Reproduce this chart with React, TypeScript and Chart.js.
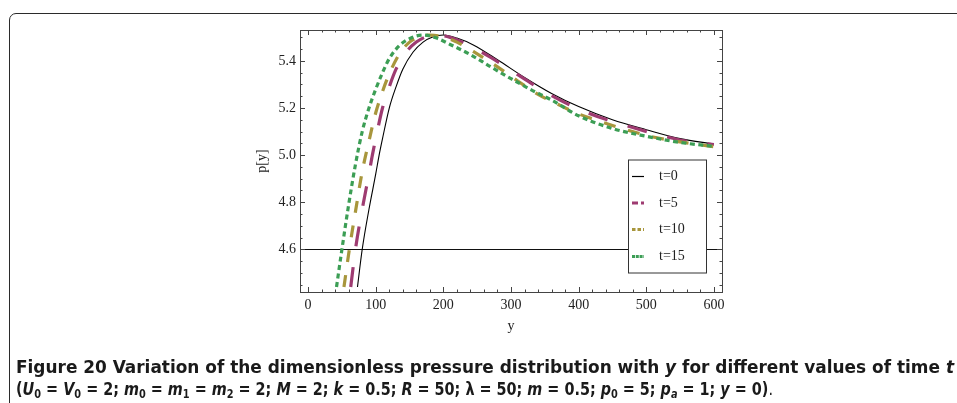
import React, { useEffect, useRef } from 'react';
import { Chart, registerables } from 'chart.js';

Chart.register(...registerables);

// ---- data ----
const seriesLabels = ['t=0', 't=5', 't=10', 't=15'];

const t0X = [73, 80, 90, 100, 105, 110, 120, 130, 140, 155, 170, 185, 200, 220, 245, 280, 320, 360, 400, 450, 500, 550, 600];
const t0Y = [4.44, 4.6, 4.77, 4.92, 5.0, 5.07, 5.2, 5.29, 5.365, 5.437, 5.48, 5.503, 5.51, 5.497, 5.467, 5.405, 5.33, 5.262, 5.206, 5.15, 5.108, 5.07, 5.047];

const t5X = [63, 70, 80, 90, 95, 100, 110, 120, 130, 145, 160, 175, 190, 210, 240, 270, 300, 330, 360, 400, 440, 480, 520, 560, 600];
const t5Y = [4.44, 4.6, 4.77, 4.92, 5.0, 5.07, 5.2, 5.29, 5.365, 5.437, 5.48, 5.503, 5.51, 5.5, 5.463, 5.415, 5.36, 5.305, 5.253, 5.196, 5.152, 5.117, 5.085, 5.059, 5.045];

const t10X = [53, 61, 70, 80, 90, 100, 110, 120, 135, 150, 165, 180, 200, 220, 250, 280, 310, 340, 370, 400, 430, 470, 510, 550, 600];
const t10Y = [4.44, 4.6, 4.76, 4.93, 5.06, 5.18, 5.27, 5.345, 5.43, 5.48, 5.503, 5.51, 5.502, 5.48, 5.43, 5.375, 5.315, 5.258, 5.215, 5.175, 5.145, 5.108, 5.077, 5.056, 5.036];

const t15X = [42, 50, 60, 70, 80, 90, 100, 110, 120, 135, 150, 170, 190, 210, 240, 270, 300, 330, 360, 400, 450, 500, 550, 600];
const t15Y = [4.44, 4.6, 4.79, 4.96, 5.1, 5.2, 5.28, 5.35, 5.41, 5.465, 5.495, 5.51, 5.497, 5.47, 5.427, 5.375, 5.325, 5.277, 5.234, 5.167, 5.113, 5.08, 5.054, 5.037];

const xTicks = [0, 100, 200, 300, 400, 500, 600];
const yTicks = [4.6, 4.8, 5.0, 5.2, 5.4];
const xMinorStep = 20;
const yMinorStep = 0.05;
const xMin = -12;
const xMax = 612;
const yMin = 4.4186;
const yMax = 5.5314;
const axisLevel = 4.6;

// ---- styles ----
const colors = ['#000000', '#9e3b71', '#a8963c', '#3c9e55'];
const widths = [1.1, 3.2, 3.2, 3.2];
const dashes: number[][] = [[], [20, 21], [12, 13], [5, 3.5]];
const legendDashes: number[][] = [[], [6, 3], [3.5, 2], [3, 0.8]];
const serif = "'Liberation Serif', 'Times New Roman', serif";

const pts = (xs: number[], ys: number[]) => xs.map((x, i) => ({ x, y: ys[i] }));

const framePlugin = {
  id: 'mmaFrame',
  beforeDatasetsDraw(chart: any) {
    const { ctx, chartArea: a, scales } = chart;
    const yp = scales.y.getPixelForValue(axisLevel);
    ctx.save();
    ctx.strokeStyle = '#111';
    ctx.lineWidth = 1;
    ctx.beginPath();
    ctx.moveTo(a.left, Math.round(yp) + 0.5);
    ctx.lineTo(a.right, Math.round(yp) + 0.5);
    ctx.stroke();
    ctx.restore();
  },
  afterDraw(chart: any) {
    const { ctx, chartArea: a, scales } = chart;
    const xs = scales.x;
    const ys = scales.y;
    ctx.save();
    // frame
    ctx.strokeStyle = '#444';
    ctx.lineWidth = 1;
    ctx.strokeRect(Math.round(a.left) + 0.5, Math.round(a.top) + 0.5, Math.round(a.right - a.left), Math.round(a.bottom - a.top));
    // ticks
    ctx.beginPath();
    for (let i = Math.ceil(xMin / xMinorStep); i * xMinorStep <= xMax; i++) {
      const v = i * xMinorStep;
      const p = Math.round(xs.getPixelForValue(v)) + 0.5;
      const len = xTicks.includes(v) ? 5 : 2.5;
      ctx.moveTo(p, a.bottom);
      ctx.lineTo(p, a.bottom - len);
      ctx.moveTo(p, a.top);
      ctx.lineTo(p, a.top + len);
    }
    for (let i = Math.ceil(yMin / yMinorStep - 1e-9); i * yMinorStep <= yMax + 1e-9; i++) {
      const v = i * yMinorStep;
      const p = Math.round(ys.getPixelForValue(v)) + 0.5;
      const major = yTicks.some((t) => Math.abs(t - v) < 1e-6);
      const len = major ? 5 : 2.5;
      ctx.moveTo(a.left, p);
      ctx.lineTo(a.left + len, p);
      ctx.moveTo(a.right, p);
      ctx.lineTo(a.right - len, p);
    }
    ctx.stroke();

    // axis titles
    ctx.fillStyle = '#222';
    ctx.font = `14px ${serif}`;
    ctx.textAlign = 'center';
    ctx.textBaseline = 'middle';
    ctx.fillText('y', (a.left + a.right) / 2, 326);
    ctx.save();
    ctx.translate(262, (a.top + a.bottom) / 2);
    ctx.rotate(-Math.PI / 2);
    ctx.fillText('p[y]', 0, 0);
    ctx.restore();

    // legend
    const bx = 628, by = 159.5, bw = 78, bh = 113;
    ctx.fillStyle = '#fff';
    ctx.fillRect(bx, by, bw, bh);
    ctx.strokeStyle = '#333';
    ctx.lineWidth = 1;
    ctx.strokeRect(bx + 0.5, by + 0.5, bw, bh);
    const rowY = [176.5, 203, 229.5, 256.5];
    seriesLabels.forEach((lab, i) => {
      ctx.save();
      ctx.strokeStyle = colors[i];
      ctx.lineWidth = i === 0 ? 1.2 : 3;
      ctx.setLineDash(legendDashes[i]);
      ctx.beginPath();
      ctx.moveTo(632, rowY[i]);
      ctx.lineTo(644, rowY[i]);
      ctx.stroke();
      ctx.restore();
      ctx.fillStyle = '#222';
      ctx.font = `14px ${serif}`;
      ctx.textAlign = 'left';
      ctx.textBaseline = 'middle';
      ctx.fillText(lab, 659, rowY[i]);
    });
    ctx.restore();
  },
};

export default function App() {
  const canvasRef = useRef<HTMLCanvasElement>(null);
  const line1Ref = useRef<HTMLSpanElement>(null);
  const line2Ref = useRef<HTMLSpanElement>(null);

  useEffect(() => {
    const fit = (el: HTMLElement | null, target: number) => {
      if (!el) return;
      el.style.transform = 'none';
      const w = el.getBoundingClientRect().width;
      if (w > 0) el.style.transform = `scaleX(${target / w})`;
    };
    fit(line1Ref.current, 938);
    fit(line2Ref.current, 757);

    const canvas = canvasRef.current;
    if (!canvas) return;
    const ds = [
      [t0X, t0Y],
      [t5X, t5Y],
      [t10X, t10Y],
      [t15X, t15Y],
    ];
    const chart = new Chart(canvas, {
      type: 'scatter',
      data: {
        datasets: ds.map(([xs, ys], i) => ({
          label: seriesLabels[i],
          data: pts(xs, ys),
          showLine: true,
          borderColor: colors[i],
          backgroundColor: colors[i],
          borderWidth: widths[i],
          borderDash: dashes[i],
          borderCapStyle: 'butt',
          pointRadius: 0,
          cubicInterpolationMode: 'monotone',
          fill: false,
          order: 3 - i,
        })),
      },
      options: {
        responsive: false,
        animation: false,
        events: [],
        layout: { padding: { left: 0, top: 30, right: 235, bottom: 0 } },
        plugins: { legend: { display: false }, tooltip: { enabled: false }, title: { display: false } },
        scales: {
          x: {
            type: 'linear',
            min: xMin,
            max: xMax,
            afterBuildTicks: (s: any) => {
              s.ticks = xTicks.map((v) => ({ value: v }));
            },
            afterFit: (s: any) => {
              s.height = 111;
            },
            grid: { display: false, drawTicks: false },
            border: { display: false },
            ticks: {
              autoSkip: false,
              maxRotation: 0,
              padding: 5,
              color: '#222',
              font: { family: serif, size: 14 },
              callback: (v: any) => String(v),
            },
          },
          y: {
            type: 'linear',
            min: yMin,
            max: yMax,
            afterBuildTicks: (s: any) => {
              s.ticks = yTicks.map((v) => ({ value: v }));
            },
            afterFit: (s: any) => {
              s.width = 300;
            },
            grid: { display: false, drawTicks: false },
            border: { display: false },
            ticks: {
              autoSkip: false,
              padding: 4,
              color: '#222',
              font: { family: serif, size: 14 },
              callback: (v: any) => Number(v).toFixed(1),
            },
          },
        },
      },
      plugins: [framePlugin],
    } as any);
    return () => chart.destroy();
  }, []);

  const capFont = "'DejaVu Sans', 'Liberation Sans', sans-serif";
  const lineStyle: React.CSSProperties = {
    position: 'absolute',
    left: 16,
    whiteSpace: 'nowrap',
    fontFamily: capFont,
    fontStretch: 'condensed',
    fontSize: 18,
    lineHeight: '22px',
    color: '#1a1a1a',
    transformOrigin: '0 0',
    display: 'inline-block',
  };
  const sub: React.CSSProperties = { fontSize: '0.68em', verticalAlign: '-0.25em', lineHeight: 0 };

  return (
    <div style={{ position: 'absolute', left: 0, top: 0, width: 957, height: 403, overflow: 'hidden', background: '#fff' }}>
      <div
        style={{
          position: 'absolute',
          left: 9,
          top: 13,
          width: 1000,
          height: 500,
          border: '1.5px solid #2b2b2b',
          borderRadius: 7,
          boxSizing: 'border-box',
        }}
      />
      <canvas ref={canvasRef} width={957} height={403} style={{ position: 'absolute', left: 0, top: 0, display: 'block' }} />
      <span ref={line1Ref} style={{ ...lineStyle, top: 356, fontWeight: 700 }}>
        Figure 20 Variation of the dimensionless pressure distribution with <i>y</i> for different values of time <i>t</i>
      </span>
      <span ref={line2Ref} style={{ ...lineStyle, top: 378 }}>
        <b>
          (<i>U</i><sub style={sub}>0</sub> = <i>V</i><sub style={sub}>0</sub> = 2; <i>m</i><sub style={sub}>0</sub> = <i>m</i>
          <sub style={sub}>1</sub> = <i>m</i><sub style={sub}>2</sub> = 2; <i>M</i> = 2; <i>k</i> = 0.5; <i>R</i> = 50; λ = 50; <i>m</i> = 0.5;{' '}
          <i>p</i><sub style={sub}>0</sub> = 5; <i>p</i><sub style={sub}><i>a</i></sub> = 1; <i>y</i> = 0)
        </b>
        .
      </span>
    </div>
  );
}
